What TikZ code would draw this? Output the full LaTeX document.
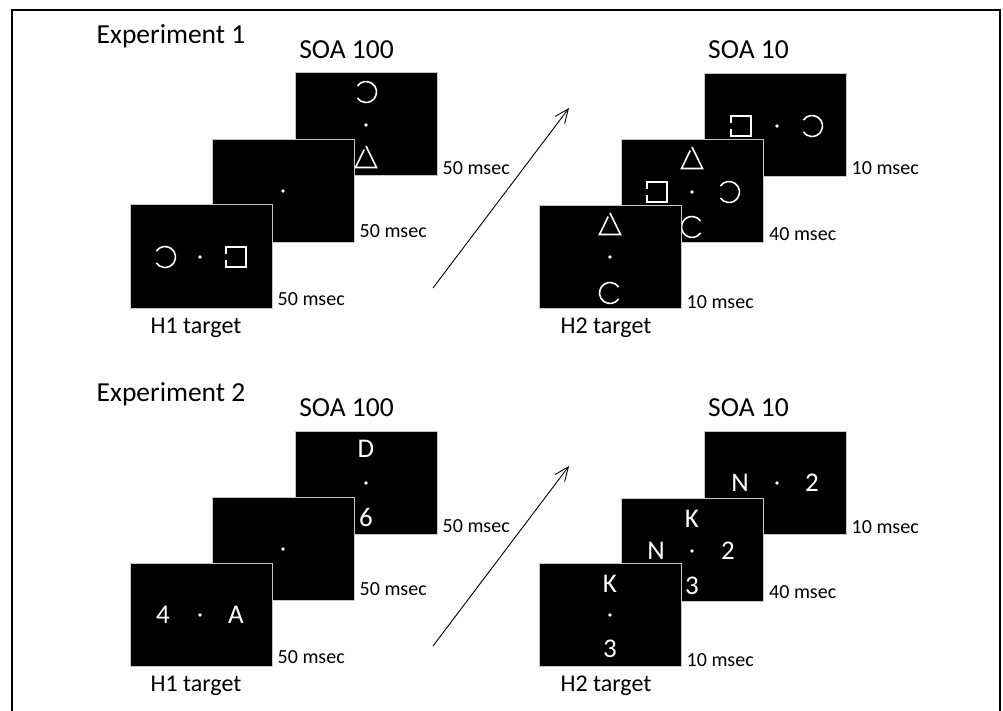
\documentclass[tikz,border=0pt]{standalone}
\usepackage{fontspec}
\setmainfont{Carlito}
\usetikzlibrary{arrows.meta}

\tikzset{
  ring/.pic = {\draw[white, line width=1.6pt] (215:10.5) arc[start angle=215, end angle=505, radius=10.5];},
  gapbox/.pic = {\draw[white, line width=1.6pt] (-10,-3) -- (-10,-10) -- (10,-10) -- (10,10) -- (-10,10) -- (-10,3);},
  gaptri/.pic = {\draw[white, line width=1.6pt, line join=miter] (-1.8,-7.4) -- (-10.5,10.5) -- (10.5,10.5) -- (0,-11);}
}

\begin{document}
\begin{tikzpicture}[x=1pt, y=-1pt,
  screen/.style = {draw=gray!45, line width=1pt, fill=black, minimum width=142pt, minimum height=103pt, inner sep=0pt},
  fix/.style = {circle, fill=white, inner sep=0pt, minimum size=3.8pt},
  sym/.style = {text=white, inner sep=0pt, font=\fontsize{27}{27}\selectfont},
  dur/.style = {anchor=base west, inner sep=0pt, font=\fontsize{20}{20}\selectfont},
  heading/.style = {inner sep=0pt, font=\fontsize{27.5}{28}\selectfont},
  cond/.style = {inner sep=0pt, font=\fontsize{24}{24}\selectfont}]
\useasboundingbox (0,0) rectangle (1003,711);

% outer frame, open at the bottom
\coordinate (fbl) at (12,720);
\coordinate (ftl) at (12,10);
\coordinate (ftr) at (1000,10);
\coordinate (fbr) at (1000,720);
\draw[line width=2.5pt] (fbl) -- (ftl) -- (ftr) -- (fbr);

% Experiment 1
\node[heading] (e1title) at (171,36) {Experiment 1};
\node[heading] (e1soaa) at (346.5,50) {SOA 100};
\node[heading] (e1soab) at (748.5,50) {SOA 10};

% SOA 100, back to front
\node[screen] (e1l3) at (366,124.5) {};
\pic at (366,92) {ring};
\node[fix] (e1l3f) at (366,125) {};
\pic at (366,157) {gaptri};
\node[dur] (e1l3d) at ([shift={(5pt,2pt)}]e1l3.south east) {50 msec};

\node[screen] (e1l2) at (283,191) {};
\node[fix] (e1l2f) at (283,191) {};
\node[dur] (e1l2d) at ([shift={(5pt,6pt)}]e1l2.south east) {50 msec};

\node[screen] (e1l1) at (201,256.5) {};
\pic at (165,257) {ring};
\node[fix] (e1l1f) at (200,257) {};
\pic at (236,257) {gapbox};
\node[dur] (e1l1d) at ([shift={(5pt,3pt)}]e1l1.south east) {50 msec};
\node[cond] (e1l1t) at (196,328) {H1 target};

% arrow
\coordinate (e1a) at (433,288);
\coordinate (e1b) at (569,108);
\draw[line width=0.9pt, -{Straight Barb[length=14pt, width=12pt]}] (e1a) -- (e1b);

% SOA 10, back to front
\node[screen] (e1r3) at (775,125) {};
\pic at (741,126) {gapbox};
\node[fix] (e1r3f) at (777,126) {};
\pic at (812,126) {ring};
\node[dur] (e1r3d) at ([shift={(5pt,2pt)}]e1r3.south east) {10 msec};

\node[screen] (e1r2) at (692.5,191.5) {};
\pic at (692,158) {gaptri};
\pic at (657,192) {gapbox};
\node[fix] (e1r2f) at (692,192) {};
\pic at (729,192) {ring};
\pic[rotate=180] at (692,227) {ring};
\node[dur] (e1r2d) at ([shift={(5pt,3pt)}]e1r2.south east) {40 msec};

\node[screen] (e1r1) at (610,257) {};
\pic at (610,224) {gaptri};
\node[fix] (e1r1f) at (610,257) {};
\pic[rotate=180] at (610,293) {ring};
\node[dur] (e1r1d) at ([shift={(5pt,1pt)}]e1r1.south east) {10 msec};
\node[cond] (e1r1t) at (606,328) {H2 target};

% Experiment 2
\begin{scope}[yshift=-358pt]
\node[heading] (e2title) at (171,36) {Experiment 2};
\node[heading] (e2soaa) at (346.5,50) {SOA 100};
\node[heading] (e2soab) at (748.5,50) {SOA 10};

% SOA 100, back to front
\node[screen] (e2l3) at (366,124.5) {};
\node[sym] (e2l3a) at (366,91) {D};
\node[fix] (e2l3f) at (366,125) {};
\node[sym] (e2l3b) at (366,159) {6};
\node[dur] (e2l3d) at ([shift={(5pt,2pt)}]e2l3.south east) {50 msec};

\node[screen] (e2l2) at (283,191) {};
\node[fix] (e2l2f) at (283,191) {};
\node[dur] (e2l2d) at ([shift={(5pt,6pt)}]e2l2.south east) {50 msec};

\node[screen] (e2l1) at (201,256.5) {};
\node[sym] (e2l1a) at (163,257) {4};
\node[fix] (e2l1f) at (200,257) {};
\node[sym] (e2l1b) at (236,257) {A};
\node[dur] (e2l1d) at ([shift={(5pt,3pt)}]e2l1.south east) {50 msec};
\node[cond] (e2l1t) at (196,328) {H1 target};

% arrow
\coordinate (e2a) at (433,288);
\coordinate (e2b) at (569,108);
\draw[line width=0.9pt, -{Straight Barb[length=14pt, width=12pt]}] (e2a) -- (e2b);

% SOA 10, back to front
\node[screen] (e2r3) at (775,125) {};
\node[sym] (e2r3a) at (740,125) {N};
\node[fix] (e2r3f) at (777,125) {};
\node[sym] (e2r3b) at (812,125) {2};
\node[dur] (e2r3d) at ([shift={(5pt,2pt)}]e2r3.south east) {10 msec};

\node[screen] (e2r2) at (692.5,191.5) {};
\node[sym] (e2r2a) at (692,161) {K};
\node[sym] (e2r2b) at (656,193) {N};
\node[fix] (e2r2f) at (692,193) {};
\node[sym] (e2r2c) at (728,193) {2};
\node[sym] (e2r2d) at (692,228) {3};
\node[dur] (e2r2l) at ([shift={(5pt,3pt)}]e2r2.south east) {40 msec};

\node[screen] (e2r1) at (610,257) {};
\node[sym] (e2r1a) at (610,226) {K};
\node[fix] (e2r1f) at (610,257) {};
\node[sym] (e2r1b) at (610,291) {3};
\node[dur] (e2r1d) at ([shift={(5pt,1pt)}]e2r1.south east) {10 msec};
\node[cond] (e2r1t) at (606,328) {H2 target};
\end{scope}
\end{tikzpicture}
\end{document}
